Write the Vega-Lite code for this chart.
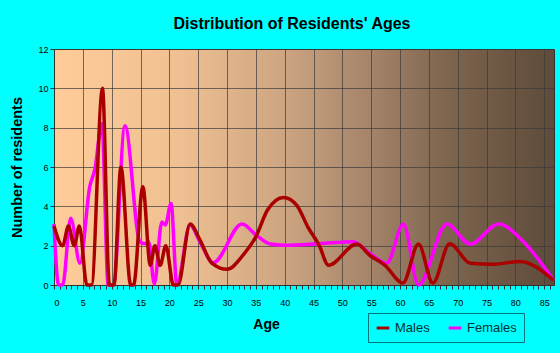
{
  "$schema": "https://vega.github.io/schema/vega-lite/v6.json",
  "width": 500,
  "height": 236,
  "autosize": {"type": "none"},
  "padding": {"left": 54, "top": 49, "right": 6, "bottom": 68},
  "background": "#00FFFF",
  "title": {
    "text": "Distribution of Residents' Ages",
    "fontSize": 16,
    "font": "Liberation Sans",
    "fontWeight": "bold",
    "color": "#000000",
    "anchor": "middle",
    "frame": "group",
    "dx": -12,
    "offset": 13
  },
  "data": {
    "values": [
      {"age": 0, "n": 3.1, "sex": "Females"},
      {"age": 0.8, "n": 0, "sex": "Females"},
      {"age": 1.5, "n": 0, "sex": "Females"},
      {"age": 2.9, "n": 3.4, "sex": "Females"},
      {"age": 4.5, "n": 1.1, "sex": "Females"},
      {"age": 6.2, "n": 5.0, "sex": "Females"},
      {"age": 7.1, "n": 5.9, "sex": "Females"},
      {"age": 8.3, "n": 8.2, "sex": "Females"},
      {"age": 9.4, "n": 0, "sex": "Females"},
      {"age": 10.3, "n": 0, "sex": "Females"},
      {"age": 12.3, "n": 8.1, "sex": "Females"},
      {"age": 14.9, "n": 2.2, "sex": "Females"},
      {"age": 15.8, "n": 2.1, "sex": "Females"},
      {"age": 16.4, "n": 2.2, "sex": "Females"},
      {"age": 17.4, "n": 0.05, "sex": "Females"},
      {"age": 18.7, "n": 3.2, "sex": "Females"},
      {"age": 19.3, "n": 3.05, "sex": "Females"},
      {"age": 20.3, "n": 4.15, "sex": "Females"},
      {"age": 21.3, "n": 0, "sex": "Females"},
      {"age": 23.6, "n": 3.05, "sex": "Females"},
      {"age": 25.3, "n": 2.2, "sex": "Females"},
      {"age": 27.6, "n": 1.13, "sex": "Females"},
      {"age": 32.6, "n": 3.1, "sex": "Females"},
      {"age": 35.2, "n": 2.5, "sex": "Females"},
      {"age": 37.5, "n": 2.08, "sex": "Females"},
      {"age": 40, "n": 2.02, "sex": "Females"},
      {"age": 46, "n": 2.1, "sex": "Females"},
      {"age": 51.9, "n": 2.2, "sex": "Females"},
      {"age": 54.8, "n": 1.6, "sex": "Females"},
      {"age": 57.7, "n": 1.1, "sex": "Females"},
      {"age": 60.6, "n": 3.1, "sex": "Females"},
      {"age": 63.2, "n": 0, "sex": "Females"},
      {"age": 68.1, "n": 3.1, "sex": "Females"},
      {"age": 72.2, "n": 2.08, "sex": "Females"},
      {"age": 77.1, "n": 3.1, "sex": "Females"},
      {"age": 81.4, "n": 2.2, "sex": "Females"},
      {"age": 86.6, "n": 0.25, "sex": "Females"},
      {"age": 0, "n": 3, "sex": "Males"},
      {"age": 1.5, "n": 2, "sex": "Males"},
      {"age": 2.5, "n": 3, "sex": "Males"},
      {"age": 3.5, "n": 2, "sex": "Males"},
      {"age": 4.4, "n": 3, "sex": "Males"},
      {"age": 5.7, "n": 0, "sex": "Males"},
      {"age": 6.5, "n": 0, "sex": "Males"},
      {"age": 8.4, "n": 10, "sex": "Males"},
      {"age": 9.6, "n": 0, "sex": "Males"},
      {"age": 10.4, "n": 0, "sex": "Males"},
      {"age": 11.6, "n": 6, "sex": "Males"},
      {"age": 13.3, "n": 0, "sex": "Males"},
      {"age": 13.8, "n": 0, "sex": "Males"},
      {"age": 15.4, "n": 5, "sex": "Males"},
      {"age": 16.7, "n": 1, "sex": "Males"},
      {"age": 17.5, "n": 2, "sex": "Males"},
      {"age": 18.4, "n": 1, "sex": "Males"},
      {"age": 19.4, "n": 2, "sex": "Males"},
      {"age": 20.7, "n": 0, "sex": "Males"},
      {"age": 21.5, "n": 0, "sex": "Males"},
      {"age": 23.6, "n": 3.1, "sex": "Males"},
      {"age": 25.3, "n": 2.3, "sex": "Males"},
      {"age": 27.4, "n": 1.1, "sex": "Males"},
      {"age": 30, "n": 0.8, "sex": "Males"},
      {"age": 33, "n": 1.6, "sex": "Males"},
      {"age": 35, "n": 2.45, "sex": "Males"},
      {"age": 37, "n": 3.8, "sex": "Males"},
      {"age": 39.8, "n": 4.45, "sex": "Males"},
      {"age": 42.1, "n": 4.05, "sex": "Males"},
      {"age": 44, "n": 2.96, "sex": "Males"},
      {"age": 46, "n": 2.0, "sex": "Males"},
      {"age": 47.6, "n": 1.0, "sex": "Males"},
      {"age": 52.5, "n": 2.08, "sex": "Males"},
      {"age": 54.8, "n": 1.5, "sex": "Males"},
      {"age": 57.4, "n": 1.0, "sex": "Males"},
      {"age": 60.5, "n": 0.1, "sex": "Males"},
      {"age": 63.2, "n": 2.08, "sex": "Males"},
      {"age": 65.7, "n": 0.1, "sex": "Males"},
      {"age": 68.6, "n": 2.1, "sex": "Males"},
      {"age": 72.2, "n": 1.1, "sex": "Males"},
      {"age": 76, "n": 1.05, "sex": "Males"},
      {"age": 80.8, "n": 1.2, "sex": "Males"},
      {"age": 86.6, "n": 0.25, "sex": "Males"}
    ]
  },
  "encoding": {
    "x": {
      "field": "age",
      "type": "quantitative",
      "scale": {"domain": [0, 86.7], "nice": false, "zero": false},
      "axis": {
        "title": "Age",
        "values": [0,1,2,3,4,5,6,7,8,9,10,11,12,13,14,15,16,17,18,19,20,21,22,23,24,25,26,27,28,29,30,31,32,33,34,35,36,37,38,39,40,41,42,43,44,45,46,47,48,49,50,51,52,53,54,55,56,57,58,59,60,61,62,63,64,65,66,67,68,69,70,71,72,73,74,75,76,77,78,79,80,81,82,83,84,85,86],
        "labelExpr": "datum.value % 5 === 0 ? datum.label : ''",
        "labelOverlap": false,
        "labelFontSize": 9,
        "labelFont": "Liberation Sans",
        "labelColor": "#000000",
        "labelPadding": 9,
        "tickSize": 4,
        "tickColor": "#333333",
        "domainColor": "#333333",
        "gridColor": "#3a3a3a",
        "gridOpacity": {"condition": {"test": "datum.value % 5 === 0", "value": 0.7}, "value": 0},
        "titleFontSize": 14,
        "titleFont": "Liberation Sans",
        "titleFontWeight": "bold",
        "titleColor": "#000000",
        "titlePadding": 10,
        "titleX": 212,
        "titleAnchor": "start",
        "titleAlign": "center"
      }
    },
    "y": {
      "field": "n",
      "type": "quantitative",
      "scale": {"domain": [0, 12], "nice": false},
      "axis": {
        "title": "Number of residents",
        "values": [0, 2, 4, 6, 8, 10, 12],
        "labelFontSize": 9,
        "labelFont": "Liberation Sans",
        "labelColor": "#000000",
        "tickSize": 4,
        "tickColor": "#333333",
        "domainColor": "#333333",
        "gridColor": "#3a3a3a",
        "gridOpacity": 0.7,
        "titleFontSize": 14.5,
        "titleFont": "Liberation Sans",
        "titleFontWeight": "bold",
        "titleColor": "#000000",
        "titlePadding": 13
      }
    },
    "color": {
      "field": "sex",
      "type": "nominal",
      "scale": {"domain": ["Males", "Females"], "range": ["#AA0000", "#FF00FF"]},
      "legend": {
        "title": null,
        "orient": "none",
        "legendX": 314,
        "legendY": 264,
        "direction": "horizontal",
        "strokeColor": "#007777",
        "padding": 7,
        "symbolType": "stroke",
        "symbolSize": 160,
        "symbolStrokeWidth": 3,
        "labelFontSize": 13,
        "labelFont": "Liberation Sans",
        "labelColor": "#003333",
        "labelOffset": 4,
        "columnPadding": 12
      }
    }
  },
  "layer": [
    {
      "transform": [{"filter": "datum.sex === 'Females'"}],
      "mark": {"type": "line", "interpolate": "monotone", "strokeWidth": 3.5}
    },
    {
      "transform": [{"filter": "datum.sex === 'Males'"}],
      "mark": {"type": "line", "interpolate": "monotone", "strokeWidth": 3.5}
    }
  ],
  "config": {
    "view": {
      "fill": {
        "gradient": "linear",
        "x1": 0, "y1": 0, "x2": 1, "y2": 0,
        "stops": [
          {"offset": 0, "color": "#FFCC99"},
          {"offset": 0.25, "color": "#EFC092"},
          {"offset": 0.45, "color": "#CFA682"},
          {"offset": 0.63, "color": "#A5846A"},
          {"offset": 0.79, "color": "#7D644D"},
          {"offset": 1, "color": "#5E4B3B"}
        ]
      },
      "stroke": "#333333",
      "strokeWidth": 1
    }
  }
}
